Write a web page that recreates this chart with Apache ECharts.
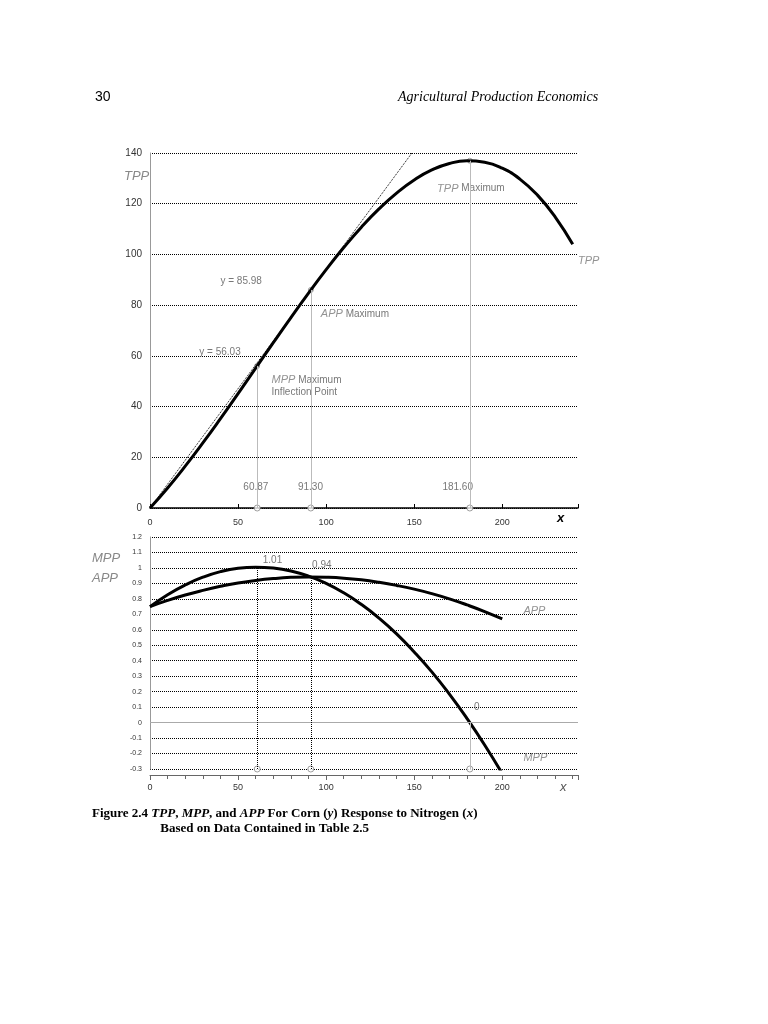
<!DOCTYPE html>
<html><head><meta charset="utf-8">
<script src="https://cdn.jsdelivr.net/npm/echarts@6/dist/echarts.min.js"></script>
<style>html,body{margin:0;background:#fff}#c{width:768px;height:1024px}</style>
</head><body><div id="c"></div>
<script>
// values
const xTop = [0,10,20,30,40,50,60,70,80,90,100,110,120,130,140,150,160,170,180,190,200,210,220,230,240]
const tpp = [0,7.90,16.50,25.66,35.25,45.13,55.15,65.19,75.10,84.75,94.00,102.71,110.74,117.95,124.21,129.38,133.31,135.88,136.94,136.36,134.00,129.72,123.38,114.84,103.97]
const xBot = [0,10,20,30,40,50,60,70,80,90,100,110,120,130,140,150,160,170,180,190,200]
const mpp = [0.75,0.827,0.890,0.940,0.976,0.998,1.005,0.999,0.980,0.947,0.900,0.839,0.764,0.676,0.574,0.457,0.328,0.184,0.026,-0.145,-0.33]
const app = [0.75,0.790,0.825,0.855,0.881,0.903,0.919,0.931,0.939,0.942,0.940,0.934,0.923,0.907,0.887,0.863,0.834,0.800,0.761,0.718,0.670]
const keyX = [60.87, 91.30, 181.60]
const keyY = [56.03, 85.98, 136.96]
const tangent = [[0,0],[148.7,140]]
const topNotes = [
  [162,140.5,'y = 136.96'],[163,126,'{i|TPP} Maximum'],[40,89.5,'y = 85.98'],
  [97,76.5,'{i|APP} Maximum'],[28,61.5,'y = 56.03'],[69,50.5,'{i|MPP} Maximum'],
  [69,45.5,'Inflection Point'],[243,97.5,'{i|TPP}'],[53,8,'60.87'],[84,8,'91.30'],[166,8,'181.60']
]
const botNotes = [[64,1.05,'1.01'],[92,1.02,'0.94'],[184,0.1,'0'],[212,0.72,'{i|APP}'],[212,-0.23,'{i|MPP}']]

const gray = '#888'
const font = 'Liberation Sans'
const lbl = {color:'#555',fontFamily:font,fontSize:10,rich:{i:{fontStyle:'italic',color:'#777',fontSize:11,fontFamily:font}}}
const noteSeries = (notes, i) => ({type:'scatter',xAxisIndex:i,yAxisIndex:i,symbolSize:0,silent:true,
  data:notes.map(n=>({value:[n[0],n[1]],label:{show:true,position:'right',distance:0,formatter:n[2],...lbl}}))})

const chart = echarts.init(document.getElementById('c'))
chart.setOption({
  animation:false,
  graphic:[
    {type:'text',left:95,top:90,style:{text:'30',font:'14px Liberation Sans',fill:'#000'}},
    {type:'text',left:398,top:90,style:{text:'Agricultural Production Economics',font:'italic 14px Liberation Serif',fill:'#000'}},
    {type:'text',left:124,top:170,style:{text:'TPP',font:'italic 13px Liberation Sans',fill:'#888'}},
    {type:'text',left:92,top:548,style:{text:'MPP\nAPP',font:'italic 13px Liberation Sans',fill:'#888',lineHeight:20}},
    {type:'text',left:557,top:512,style:{text:'x',font:'italic bold 13px Liberation Sans',fill:'#000'}},
    {type:'text',left:560,top:781,style:{text:'x',font:'italic 13px Liberation Sans',fill:'#555'}},
    {type:'text',left:92,top:806,style:{rich:{b:{font:'bold 13px Liberation Serif'},bi:{font:'bold italic 13px Liberation Serif'}},
      text:'{b|Figure 2.4 }{bi|TPP}{b|, }{bi|MPP}{b|, and }{bi|APP}{b| For Corn (}{bi|y}{b|) Response to Nitrogen (}{bi|x}{b|)}\n{b|                     Based on Data Contained in Table 2.5}',fill:'#000',lineHeight:15}}
  ],
  grid:[{left:150,right:190,top:153,height:355},{left:150,right:190,top:537,height:232}],
  xAxis:[
    {gridIndex:0,type:'value',min:0,max:243,interval:50,axisLine:{onZero:false,lineStyle:{color:'#000',width:1.5}},
     axisTick:{show:true,length:-4,lineStyle:{color:'#000'}},splitLine:{show:false},
     axisLabel:{color:'#333',fontSize:9,fontFamily:font,margin:10,formatter:v=>v>200?'':v}},
    {gridIndex:1,type:'value',min:0,max:243,interval:50,axisLine:{onZero:false,lineStyle:{color:'#666'}},
     minorTick:{show:true,splitNumber:5,length:4,lineStyle:{color:'#666'}},axisTick:{length:5,lineStyle:{color:'#666'}},splitLine:{show:false},
     offset:6,axisLabel:{color:'#333',fontSize:9,fontFamily:font,margin:8,formatter:v=>v>200?'':v}}
  ],
  yAxis:[
    {gridIndex:0,type:'value',min:0,max:140,interval:20,axisLine:{show:true,lineStyle:{color:'#999'}},axisTick:{show:false},
     splitLine:{lineStyle:{type:'dotted',color:'#000'}},axisLabel:{color:'#333',fontSize:10,fontFamily:font}},
    {gridIndex:1,type:'value',min:-0.3,max:1.2,interval:0.1,axisLine:{show:true,lineStyle:{color:'#999'}},axisTick:{show:false},
     splitLine:{lineStyle:{type:'dotted',color:'#000'}},
     axisLabel:{color:'#333',fontSize:7,fontFamily:font,formatter:v=>Math.abs(v)<1e-9?'0':+v.toFixed(1)+''}}
  ],
  series:[
    {type:'line',xAxisIndex:0,yAxisIndex:0,data:tangent,symbol:'none',lineStyle:{color:'#000',width:1,type:'dotted'}},
    {type:'line',xAxisIndex:0,yAxisIndex:0,data:xTop.map((x,i)=>[x,tpp[i]]),smooth:true,symbol:'none',lineStyle:{color:'#000',width:3},
     markLine:{symbol:'none',silent:true,label:{show:false},lineStyle:{color:'#bbb',width:1,type:'solid'},
       data:keyX.map(x=>[{coord:[x,0]},{coord:[x,x>150?136.96:(x>80?85.98:56.03)]}])}},
    {type:'scatter',xAxisIndex:0,yAxisIndex:0,symbol:'circle',symbolSize:6,itemStyle:{color:'#fff',borderColor:'#888'},
     data:keyX.map(x=>[x,0])},
    {type:'scatter',xAxisIndex:0,yAxisIndex:0,symbol:'circle',symbolSize:5,itemStyle:{color:'#fff',borderColor:'#888'},
     data:keyX.map((x,i)=>[x,keyY[i]])},
    noteSeries(topNotes,0),
    {type:'line',xAxisIndex:1,yAxisIndex:1,data:xBot.map((x,i)=>[x,mpp[i]]),smooth:true,symbol:'none',lineStyle:{color:'#000',width:3},
     markLine:{symbol:'none',silent:true,label:{show:false},
       data:[{yAxis:0,lineStyle:{color:'#aaa',width:1,type:'solid'}},
         [{coord:[keyX[0],-0.3],lineStyle:{color:'#000',type:'dotted',width:1}},{coord:[keyX[0],1.005]}],
         [{coord:[keyX[1],-0.3],lineStyle:{color:'#000',type:'dotted',width:1}},{coord:[keyX[1],0.942]}],
         [{coord:[keyX[2],-0.3],lineStyle:{color:'#bbb',type:'solid',width:1}},{coord:[keyX[2],0]}]]}},
    {type:'line',xAxisIndex:1,yAxisIndex:1,data:xBot.map((x,i)=>[x,app[i]]),smooth:true,symbol:'none',lineStyle:{color:'#000',width:3}},
    {type:'scatter',xAxisIndex:1,yAxisIndex:1,symbol:'circle',symbolSize:6,itemStyle:{color:'#fff',borderColor:'#888'},
     data:keyX.map(x=>[x,-0.3])},
    noteSeries(botNotes,1)
  ]
})
</script></body></html>
